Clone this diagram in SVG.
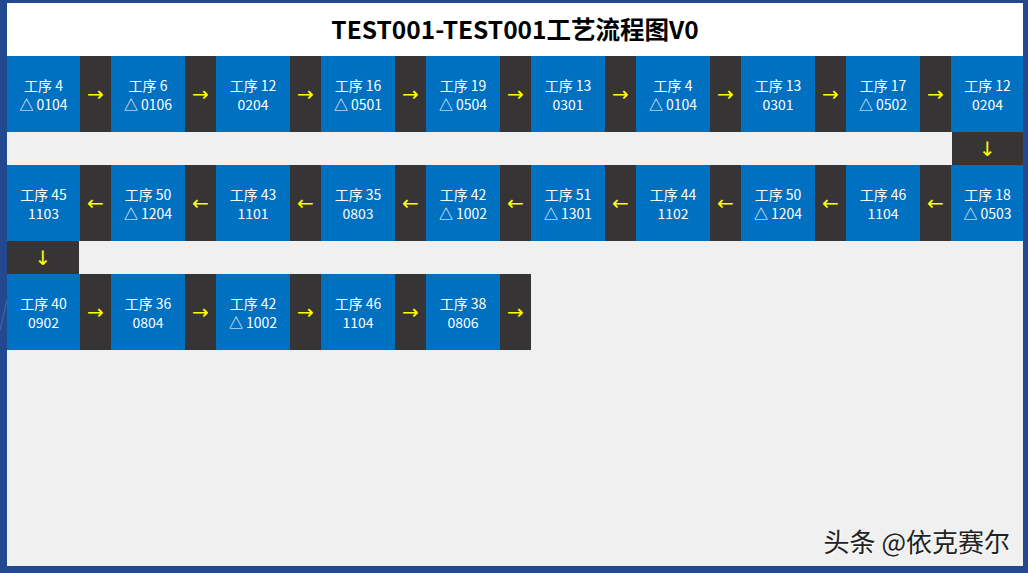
<svg xmlns="http://www.w3.org/2000/svg" width="1028" height="573" viewBox="0 0 1028 573">
<style>
.node{fill:#0070C0;}
.gap{fill:#363434;}
.lbl{font-family:"Noto Sans CJK SC","Liberation Sans",sans-serif;font-size:14px;fill:#ffffff;text-anchor:middle;}
.arr{font-family:"DejaVu Sans","Liberation Sans",sans-serif;font-size:20px;fill:#ffff00;text-anchor:middle;dominant-baseline:central;}
.wm{font-family:"Noto Sans CJK SC","Liberation Sans",sans-serif;font-size:26px;text-anchor:end;}
</style>
<rect x="0" y="0" width="1028" height="573" fill="#22488f"/>
<line x1="0" y1="330" x2="7" y2="300" stroke="#3f6bb5" stroke-width="1"/>
<rect x="7" y="3" width="1016" height="563" fill="#f0f0f0"/>
<rect x="7" y="3" width="1016" height="53" fill="#ffffff"/>
<text x="515" y="39" font-family="'Noto Sans CJK SC','Liberation Sans',sans-serif" font-size="24.5" font-weight="bold" fill="#000" text-anchor="middle">TEST001-TEST001工艺流程图V0</text>

<g id="connectors">
<g class="row1">
<rect class="gap" x="80" y="56" width="31" height="76"/><text class="arr" x="95.5" y="94">→</text>
<rect class="gap" x="185" y="56" width="31" height="76"/><text class="arr" x="200.5" y="94">→</text>
<rect class="gap" x="290" y="56" width="31" height="76"/><text class="arr" x="305.5" y="94">→</text>
<rect class="gap" x="395" y="56" width="31" height="76"/><text class="arr" x="410.5" y="94">→</text>
<rect class="gap" x="500" y="56" width="31" height="76"/><text class="arr" x="515.5" y="94">→</text>
<rect class="gap" x="605" y="56" width="31" height="76"/><text class="arr" x="620.5" y="94">→</text>
<rect class="gap" x="710" y="56" width="31" height="76"/><text class="arr" x="725.5" y="94">→</text>
<rect class="gap" x="815" y="56" width="31" height="76"/><text class="arr" x="830.5" y="94">→</text>
<rect class="gap" x="920" y="56" width="31" height="76"/><text class="arr" x="935.5" y="94">→</text>
</g>
<rect class="gap" x="952" y="132" width="71" height="33"/><text class="arr" x="987.5" y="148.5">↓</text>
<g class="row2">
<rect class="gap" x="80" y="165" width="31" height="76"/><text class="arr" x="95.5" y="203">←</text>
<rect class="gap" x="185" y="165" width="31" height="76"/><text class="arr" x="200.5" y="203">←</text>
<rect class="gap" x="290" y="165" width="31" height="76"/><text class="arr" x="305.5" y="203">←</text>
<rect class="gap" x="395" y="165" width="31" height="76"/><text class="arr" x="410.5" y="203">←</text>
<rect class="gap" x="500" y="165" width="31" height="76"/><text class="arr" x="515.5" y="203">←</text>
<rect class="gap" x="605" y="165" width="31" height="76"/><text class="arr" x="620.5" y="203">←</text>
<rect class="gap" x="710" y="165" width="31" height="76"/><text class="arr" x="725.5" y="203">←</text>
<rect class="gap" x="815" y="165" width="31" height="76"/><text class="arr" x="830.5" y="203">←</text>
<rect class="gap" x="920" y="165" width="31" height="76"/><text class="arr" x="935.5" y="203">←</text>
</g>
<rect class="gap" x="7" y="241" width="72" height="33"/><text class="arr" x="43" y="257.5">↓</text>
<g class="row3">
<rect class="gap" x="80" y="274" width="31" height="76"/><text class="arr" x="95.5" y="312">→</text>
<rect class="gap" x="185" y="274" width="31" height="76"/><text class="arr" x="200.5" y="312">→</text>
<rect class="gap" x="290" y="274" width="31" height="76"/><text class="arr" x="305.5" y="312">→</text>
<rect class="gap" x="395" y="274" width="31" height="76"/><text class="arr" x="410.5" y="312">→</text>
<rect class="gap" x="500" y="274" width="31" height="76"/><text class="arr" x="515.5" y="312">→</text>
</g>
</g>

<g id="n1"><rect class="node" x="7" y="56" width="73" height="76"/><text class="lbl" x="43.5" y="91">工序 4</text><text class="lbl" x="43.5" y="110">△ 0104</text></g>
<g id="n2"><rect class="node" x="111" y="56" width="74" height="76"/><text class="lbl" x="148" y="91">工序 6</text><text class="lbl" x="148" y="110">△ 0106</text></g>
<g id="n3"><rect class="node" x="216" y="56" width="74" height="76"/><text class="lbl" x="253" y="91">工序 12</text><text class="lbl" x="253" y="110">0204</text></g>
<g id="n4"><rect class="node" x="321" y="56" width="74" height="76"/><text class="lbl" x="358" y="91">工序 16</text><text class="lbl" x="358" y="110">△ 0501</text></g>
<g id="n5"><rect class="node" x="426" y="56" width="74" height="76"/><text class="lbl" x="463" y="91">工序 19</text><text class="lbl" x="463" y="110">△ 0504</text></g>
<g id="n6"><rect class="node" x="531" y="56" width="74" height="76"/><text class="lbl" x="568" y="91">工序 13</text><text class="lbl" x="568" y="110">0301</text></g>
<g id="n7"><rect class="node" x="636" y="56" width="74" height="76"/><text class="lbl" x="673" y="91">工序 4</text><text class="lbl" x="673" y="110">△ 0104</text></g>
<g id="n8"><rect class="node" x="741" y="56" width="74" height="76"/><text class="lbl" x="778" y="91">工序 13</text><text class="lbl" x="778" y="110">0301</text></g>
<g id="n9"><rect class="node" x="846" y="56" width="74" height="76"/><text class="lbl" x="883" y="91">工序 17</text><text class="lbl" x="883" y="110">△ 0502</text></g>
<g id="n10"><rect class="node" x="951" y="56" width="72" height="76"/><text class="lbl" x="987.5" y="91">工序 12</text><text class="lbl" x="987.5" y="110">0204</text></g>

<g id="n11"><rect class="node" x="951" y="165" width="72" height="76"/><text class="lbl" x="987.5" y="200">工序 18</text><text class="lbl" x="987.5" y="219">△ 0503</text></g>
<g id="n12"><rect class="node" x="846" y="165" width="74" height="76"/><text class="lbl" x="883" y="200">工序 46</text><text class="lbl" x="883" y="219">1104</text></g>
<g id="n13"><rect class="node" x="741" y="165" width="74" height="76"/><text class="lbl" x="778" y="200">工序 50</text><text class="lbl" x="778" y="219">△ 1204</text></g>
<g id="n14"><rect class="node" x="636" y="165" width="74" height="76"/><text class="lbl" x="673" y="200">工序 44</text><text class="lbl" x="673" y="219">1102</text></g>
<g id="n15"><rect class="node" x="531" y="165" width="74" height="76"/><text class="lbl" x="568" y="200">工序 51</text><text class="lbl" x="568" y="219">△ 1301</text></g>
<g id="n16"><rect class="node" x="426" y="165" width="74" height="76"/><text class="lbl" x="463" y="200">工序 42</text><text class="lbl" x="463" y="219">△ 1002</text></g>
<g id="n17"><rect class="node" x="321" y="165" width="74" height="76"/><text class="lbl" x="358" y="200">工序 35</text><text class="lbl" x="358" y="219">0803</text></g>
<g id="n18"><rect class="node" x="216" y="165" width="74" height="76"/><text class="lbl" x="253" y="200">工序 43</text><text class="lbl" x="253" y="219">1101</text></g>
<g id="n19"><rect class="node" x="111" y="165" width="74" height="76"/><text class="lbl" x="148" y="200">工序 50</text><text class="lbl" x="148" y="219">△ 1204</text></g>
<g id="n20"><rect class="node" x="7" y="165" width="73" height="76"/><text class="lbl" x="43.5" y="200">工序 45</text><text class="lbl" x="43.5" y="219">1103</text></g>

<g id="n21"><rect class="node" x="7" y="274" width="73" height="76"/><text class="lbl" x="43.5" y="309">工序 40</text><text class="lbl" x="43.5" y="328">0902</text></g>
<g id="n22"><rect class="node" x="111" y="274" width="74" height="76"/><text class="lbl" x="148" y="309">工序 36</text><text class="lbl" x="148" y="328">0804</text></g>
<g id="n23"><rect class="node" x="216" y="274" width="74" height="76"/><text class="lbl" x="253" y="309">工序 42</text><text class="lbl" x="253" y="328">△ 1002</text></g>
<g id="n24"><rect class="node" x="321" y="274" width="74" height="76"/><text class="lbl" x="358" y="309">工序 46</text><text class="lbl" x="358" y="328">1104</text></g>
<g id="n25"><rect class="node" x="426" y="274" width="74" height="76"/><text class="lbl" x="463" y="309">工序 38</text><text class="lbl" x="463" y="328">0806</text></g>

<text class="wm" x="1011" y="553" fill="#ffffff">头条 @依克赛尔</text>
<text class="wm" x="1010" y="552" fill="#222222">头条 @依克赛尔</text>
</svg>
